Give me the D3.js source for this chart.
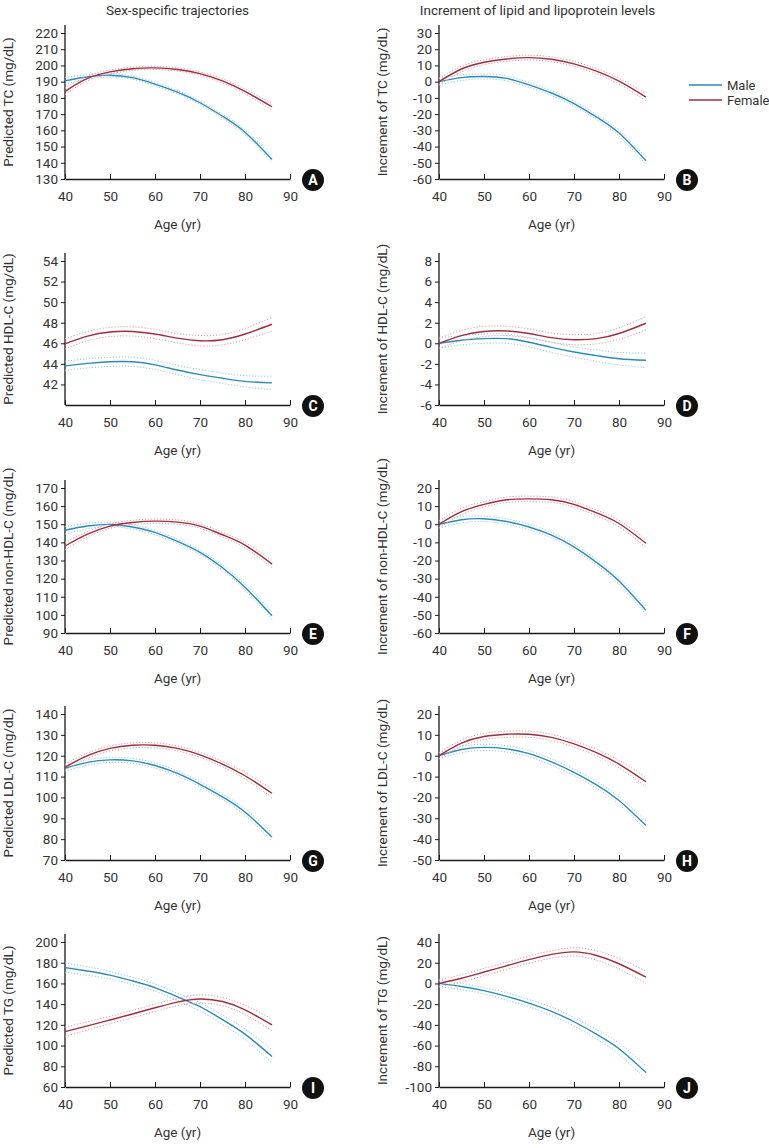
<!DOCTYPE html>
<html>
<head>
<meta charset="utf-8">
<script src="https://cdn.jsdelivr.net/npm/d3@7"></script>
<style>
  body { margin: 0; background: #fff; }
  svg { display: block; font-family: Roboto, "Open Sans", sans-serif; }
</style>
</head>
<body>
<svg id="chart" width="769" height="1148"></svg>
<script>
// ---------- data ----------
const ages = [40, 45, 50, 55, 60, 65, 70, 75, 80, 86];
const seriesNames = ["Male", "Female"];
const colTitles = ["Sex-specific trajectories", "Increment of lipid and lipoprotein levels"];
const xTicks = [40, 50, 60, 70, 80, 90];

// A: predicted TC
const tcMale = [190.5, 193, 194, 192.5, 188.5, 183.5, 177, 168.7, 158.8, 142];
const tcFemale = [184, 192, 196, 198, 198.5, 197.5, 195, 190.5, 184, 174.5];
const tcMaleCI = [2, 1.5, 1.1, 1, 1, 1, 1, 1.2, 1.5, 2];
const tcFemaleCI = [2, 1.5, 1.2, 1, 1, 1, 1, 1.2, 1.5, 2];
// B: increment of TC
const incTcMale = [0, 2.5, 3.2, 2, -2, -7, -13.5, -21.8, -31.7, -48.8];
const incTcFemale = [0, 7.8, 12, 14, 14.8, 13.8, 11, 6.5, 0.3, -9.5];
const incTcMaleCI = [2, 1.8, 1.5, 1.5, 1.5, 1.5, 1.5, 1.5, 1.8, 2.2];
const incTcFemaleCI = [2, 1.8, 1.5, 1.5, 1.5, 1.5, 1.5, 1.6, 1.8, 2.2];
// C: predicted HDL-C
const hdlMale = [43.8, 44.05, 44.2, 44.2, 43.9, 43.4, 42.95, 42.6, 42.3, 42.15];
const hdlFemale = [45.95, 46.7, 47.1, 47.15, 46.9, 46.5, 46.25, 46.35, 46.9, 47.85];
const hdlMaleCI = [0.45, 0.45, 0.45, 0.45, 0.45, 0.45, 0.5, 0.5, 0.55, 0.65];
const hdlFemaleCI = [0.5, 0.45, 0.45, 0.45, 0.45, 0.45, 0.5, 0.5, 0.55, 0.65];
// D: increment of HDL-C
const incHdlMale = [0, 0.3, 0.45, 0.45, 0.1, -0.4, -0.85, -1.2, -1.5, -1.65];
const incHdlFemale = [0, 0.75, 1.15, 1.2, 0.95, 0.55, 0.35, 0.45, 0.95, 1.95];
const incHdlMaleCI = [0.5, 0.45, 0.45, 0.45, 0.45, 0.5, 0.5, 0.55, 0.6, 0.7];
const incHdlFemaleCI = [0.5, 0.5, 0.5, 0.45, 0.45, 0.45, 0.5, 0.5, 0.55, 0.65];
// E: predicted non-HDL-C
const nonHdlMale = [146.7, 149, 149.9, 148.5, 145.5, 140.5, 134.5, 126, 115.3, 99.5];
const nonHdlFemale = [138, 144.5, 149, 151, 151.7, 151.2, 149, 144.2, 138.5, 128];
const nonHdlMaleCI = [2, 1.5, 1.2, 1.2, 1.2, 1.2, 1.2, 1.3, 1.5, 2];
const nonHdlFemaleCI = [2, 1.5, 1.2, 1.2, 1.2, 1.2, 1.2, 1.3, 1.5, 2];
// F: increment of non-HDL-C
const incNonHdlMale = [0, 2.5, 3, 1.5, -1.5, -6, -12.5, -21, -31.3, -47.5];
const incNonHdlFemale = [0, 7, 11, 13.5, 14, 13.5, 11, 6.3, 0.4, -10.5];
const incNonHdlMaleCI = [2, 1.8, 1.5, 1.5, 1.5, 1.5, 1.5, 1.6, 1.8, 2.2];
const incNonHdlFemaleCI = [2, 1.8, 1.5, 1.5, 1.5, 1.5, 1.5, 1.6, 1.8, 2.2];
// G: predicted LDL-C
const ldlMale = [114, 116.8, 118, 117.5, 115.3, 111.5, 106.3, 100.3, 93, 81];
const ldlFemale = [114.5, 120, 123.5, 125, 125, 123.5, 120.4, 116, 110.4, 102];
const ldlMaleCI = [1.5, 1.3, 1.2, 1.2, 1.2, 1.2, 1.2, 1.3, 1.5, 2];
const ldlFemaleCI = [1.5, 1.3, 1.2, 1.2, 1.2, 1.2, 1.2, 1.3, 1.5, 2];
// H: increment of LDL-C
const incLdlMale = [0, 3, 4, 3.3, 1, -3, -8, -14, -21.5, -33.5];
const incLdlFemale = [0, 6, 9.2, 10.3, 10.3, 8.8, 5.7, 1.5, -4, -12.5];
const incLdlMaleCI = [1.5, 1.5, 1.5, 1.5, 1.5, 1.5, 1.5, 1.6, 1.8, 2.2];
const incLdlFemaleCI = [1.5, 1.5, 1.5, 1.5, 1.5, 1.5, 1.5, 1.6, 1.8, 2.2];
// I: predicted TG
const tgMale = [175.3, 172, 168, 162.5, 156, 147, 137.5, 125, 111, 89.5];
const tgFemale = [113.5, 119, 124.7, 130.5, 136.5, 142, 145, 142.5, 134.5, 120];
const tgMaleCI = [4.5, 4, 3.5, 3.5, 3.5, 3.5, 4, 4.5, 5, 6.5];
const tgFemaleCI = [4.5, 4, 3.5, 3.5, 3.5, 3.5, 4, 4, 4.5, 5.5];
// J: increment of TG
const incTgMale = [0, -3, -7, -12.5, -19, -27, -37, -49, -63, -86];
const incTgFemale = [0, 5, 11, 17, 23, 28, 30.5, 27, 19, 6];
const incTgMaleCI = [3, 3, 3, 3.5, 3.5, 4, 4, 4.5, 5.5, 6.5];
const incTgFemaleCI = [3.5, 3.5, 3.5, 3.5, 3.5, 3.5, 4, 4.5, 5, 6];

// y-axis tick labels per panel
const ticksA = [130, 140, 150, 160, 170, 180, 190, 200, 210, 220];
const ticksB = [-60, -50, -40, -30, -20, -10, 0, 10, 20, 30];
const ticksC = [42, 44, 46, 48, 50, 52, 54];
const ticksD = [-6, -4, -2, 0, 2, 4, 6, 8];
const ticksE = [90, 100, 110, 120, 130, 140, 150, 160, 170];
const ticksF = [-60, -50, -40, -30, -20, -10, 0, 10, 20];
const ticksG = [70, 80, 90, 100, 110, 120, 130, 140];
const ticksH = [-50, -40, -30, -20, -10, 0, 10, 20];
const ticksI = [60, 80, 100, 120, 140, 160, 180, 200];
const ticksJ = [-100, -80, -60, -40, -20, 0, 20, 40];

const panels = [
  {letter: "A", col: 0, row: 0, label: "Predicted TC (mg/dL)", ticks: ticksA, yMin: 130, male: tcMale, female: tcFemale, maleCI: tcMaleCI, femaleCI: tcFemaleCI},
  {letter: "B", col: 1, row: 0, label: "Increment of TC (mg/dL)", ticks: ticksB, yMin: -60, male: incTcMale, female: incTcFemale, maleCI: incTcMaleCI, femaleCI: incTcFemaleCI},
  {letter: "C", col: 0, row: 1, label: "Predicted HDL-C (mg/dL)", ticks: ticksC, yMin: 40, male: hdlMale, female: hdlFemale, maleCI: hdlMaleCI, femaleCI: hdlFemaleCI},
  {letter: "D", col: 1, row: 1, label: "Increment of HDL-C (mg/dL)", ticks: ticksD, yMin: -6, male: incHdlMale, female: incHdlFemale, maleCI: incHdlMaleCI, femaleCI: incHdlFemaleCI},
  {letter: "E", col: 0, row: 2, label: "Predicted non-HDL-C (mg/dL)", ticks: ticksE, yMin: 90, male: nonHdlMale, female: nonHdlFemale, maleCI: nonHdlMaleCI, femaleCI: nonHdlFemaleCI},
  {letter: "F", col: 1, row: 2, label: "Increment of non-HDL-C (mg/dL)", ticks: ticksF, yMin: -60, male: incNonHdlMale, female: incNonHdlFemale, maleCI: incNonHdlMaleCI, femaleCI: incNonHdlFemaleCI},
  {letter: "G", col: 0, row: 3, label: "Predicted LDL-C (mg/dL)", ticks: ticksG, yMin: 70, male: ldlMale, female: ldlFemale, maleCI: ldlMaleCI, femaleCI: ldlFemaleCI},
  {letter: "H", col: 1, row: 3, label: "Increment of LDL-C (mg/dL)", ticks: ticksH, yMin: -50, male: incLdlMale, female: incLdlFemale, maleCI: incLdlMaleCI, femaleCI: incLdlFemaleCI},
  {letter: "I", col: 0, row: 4, label: "Predicted TG (mg/dL)", ticks: ticksI, yMin: 60, male: tgMale, female: tgFemale, maleCI: tgMaleCI, femaleCI: tgFemaleCI},
  {letter: "J", col: 1, row: 4, label: "Increment of TG (mg/dL)", ticks: ticksJ, yMin: -100, male: incTgMale, female: incTgFemale, maleCI: incTgMaleCI, femaleCI: incTgFemaleCI}
];

// ---------- layout & style ----------
const colX = [65, 439];
const plotW = 225;
const rowBottom = [179, 405, 633, 860, 1087];
const rowTop = [33, 261, 488, 714, 942];
const colors = {Male: "#2d8ab8", Female: "#9c2f3b"};
const ciColors = {Male: "#8fcfe6", Female: "#e79aa3"};
const axisColor = "#1a1a1a";
const textColor = "#333";

const svg = d3.select("#chart");

// column titles
colTitles.forEach((t, i) => {
  svg.append("text")
    .attr("x", colX[i] + plotW / 2 + (i === 1 ? -14 : 0))
    .attr("y", 15)
    .attr("text-anchor", "middle")
    .attr("font-size", 13.5)
    .attr("fill", textColor)
    .text(t);
});

const line = d3.line().curve(d3.curveNatural);

panels.forEach(p => {
  const x0 = colX[p.col];
  const yB = rowBottom[p.row];
  const yT = rowTop[p.row];
  const yMax = p.ticks[p.ticks.length - 1];
  const x = d3.scaleLinear().domain([40, 90]).range([x0, x0 + plotW]);
  const y = d3.scaleLinear().domain([p.yMin, yMax]).range([yB, yT]);
  const g = svg.append("g");

  // y axis
  const yAxis = g.append("g")
    .attr("transform", `translate(${x0},0)`)
    .call(d3.axisLeft(y).tickValues(p.ticks).tickSize(4).tickPadding(3).tickFormat(d3.format("d")));
  yAxis.select(".domain").attr("d", `M0,${yB}V${yT - 8}`).attr("stroke", axisColor).attr("stroke-width", 1.3);
  yAxis.selectAll(".tick line").attr("stroke", axisColor);
  yAxis.selectAll(".tick text").attr("font-size", 13.5).attr("fill", textColor)
    .attr("font-family", "Roboto, sans-serif").text(d => d < 0 ? "-" + Math.abs(d) : d);

  // x axis
  const xAxis = g.append("g")
    .attr("transform", `translate(0,${yB})`)
    .call(d3.axisBottom(x).tickValues(xTicks).tickSize(0).tickPadding(12));
  xAxis.select(".domain").attr("stroke", axisColor).attr("stroke-width", 1.3);
  xAxis.selectAll(".tick text").attr("font-size", 13.5).attr("fill", textColor).attr("font-family", "Roboto, sans-serif");
  xAxis.selectAll(".tick").append("line").attr("y1", 0).attr("y2", -5).attr("stroke", axisColor).attr("stroke-width", 1);

  // axis labels
  g.append("text")
    .attr("x", x0 + plotW / 2)
    .attr("y", yB + 50)
    .attr("text-anchor", "middle")
    .attr("font-size", 13.5)
    .attr("fill", textColor)
    .text("Age (yr)");
  g.append("text")
    .attr("transform", `translate(${x0 - 52},${(yB + yT - 8) / 2}) rotate(-90)`)
    .attr("text-anchor", "middle")
    .attr("font-size", 13.5)
    .attr("fill", textColor)
    .text(p.label);

  // series
  seriesNames.forEach(name => {
    const vals = name === "Male" ? p.male : p.female;
    const ci = name === "Male" ? p.maleCI : p.femaleCI;
    const upper = ages.map((a, i) => [x(a), y(vals[i] + ci[i])]);
    const lower = ages.map((a, i) => [x(a), y(vals[i] - ci[i])]);
    [upper, lower].forEach(pts => {
      g.append("path").attr("d", line(pts)).attr("fill", "none")
        .attr("stroke", ciColors[name]).attr("stroke-width", 1).attr("stroke-dasharray", "1.2,1.8");
    });
    g.append("path").attr("d", line(ages.map((a, i) => [x(a), y(vals[i])])))
      .attr("fill", "none").attr("stroke", colors[name]).attr("stroke-width", 1.4);
  });

  // badge
  g.append("circle").attr("cx", x0 + plotW + 23).attr("cy", yB + 1).attr("r", 11).attr("fill", "#111");
  g.append("text").attr("x", x0 + plotW + 23).attr("y", yB + 6)
    .attr("text-anchor", "middle").attr("font-size", 14).attr("font-weight", "bold")
    .attr("fill", "#fff").attr("font-family", "Roboto, sans-serif").text(p.letter);
});

// legend
const legend = svg.append("g");
seriesNames.forEach((name, i) => {
  const ly = 85 + i * 15;
  legend.append("line").attr("x1", 689).attr("x2", 722).attr("y1", ly).attr("y2", ly)
    .attr("stroke", colors[name]).attr("stroke-width", 1.6);
  legend.append("text").attr("x", 727).attr("y", ly + 4.5).attr("font-size", 13)
    .attr("fill", textColor).text(name);
});
</script>
</body>
</html>
